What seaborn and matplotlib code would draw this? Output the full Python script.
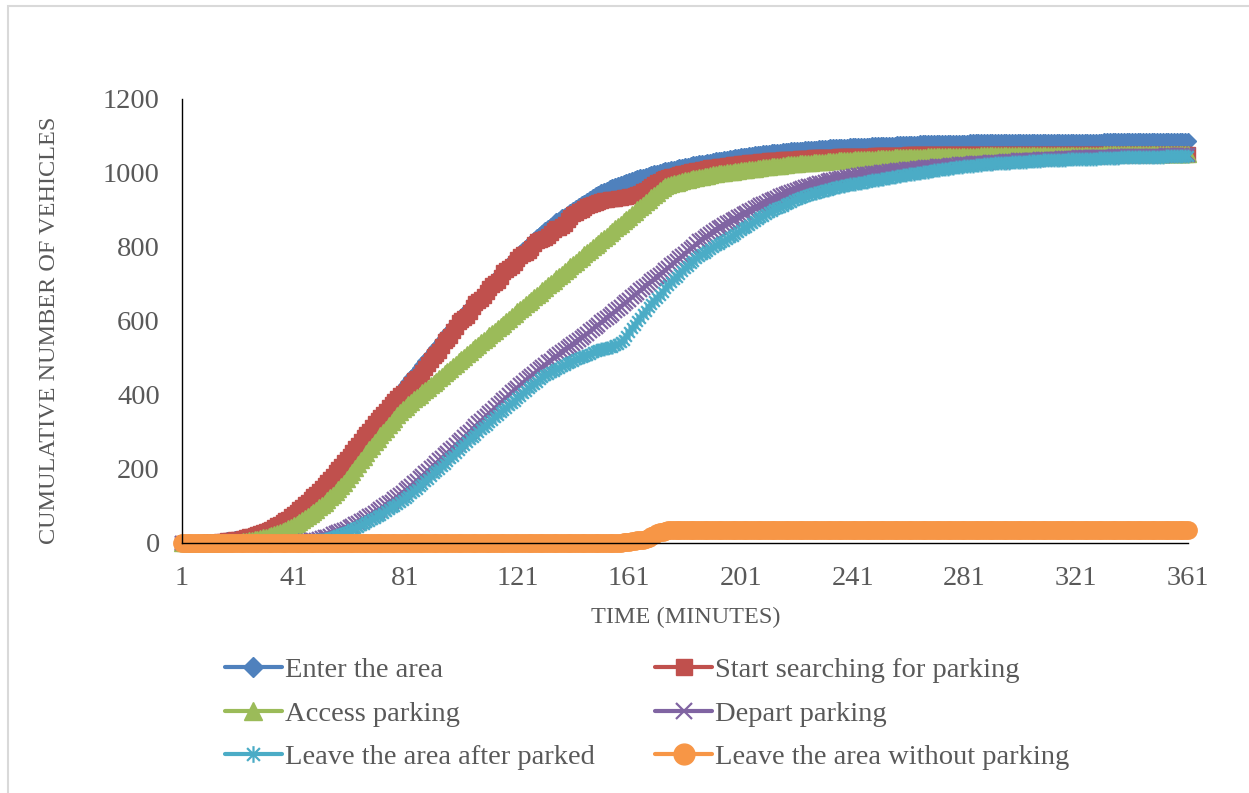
import matplotlib
matplotlib.use("Agg")
import matplotlib.pyplot as plt
import seaborn as sns
from matplotlib.path import Path
from matplotlib.patches import Rectangle

# Time axis: one observation per minute
minutes = list(range(1, 362))

# Cumulative vehicle counts per minute
enter = [
    0, 0, 0, 0, 1, 1, 1, 1, 2, 2,
    2, 3, 3, 4, 5, 6, 7, 8, 9, 10,
    11, 13, 14, 16, 18, 20, 22, 25, 27, 30,
    33, 36, 40, 44, 48, 52, 57, 62, 67, 72,
    80, 86, 92, 99, 106, 113, 120, 127, 134, 142,
    150, 158, 166, 175, 184, 193, 202, 211, 220, 229,
    238, 248, 258, 268, 279, 288, 297, 307, 316, 326,
    335, 344, 353, 362, 371, 381, 390, 399, 408, 417,
    426, 436, 445, 454, 463, 473, 482, 491, 500, 509,
    518, 527, 536, 545, 555, 564, 573, 582, 591, 601,
    610, 618, 627, 635, 643, 651, 660, 668, 676, 685,
    693, 701, 710, 718, 726, 735, 743, 751, 760, 768,
    776, 783, 791, 798, 805, 812, 819, 826, 832, 839,
    845, 851, 857, 863, 869, 874, 880, 885, 890, 895,
    900, 905, 910, 915, 920, 925, 930, 935, 940, 944,
    948, 952, 955, 959, 962, 965, 968, 971, 974, 976,
    978, 981, 983, 986, 988, 990, 993, 995, 997, 999,
    1001, 1003, 1005, 1007, 1008, 1010, 1012, 1014, 1015, 1017,
    1018, 1020, 1021, 1023, 1024, 1026, 1027, 1028, 1030, 1031,
    1032, 1034, 1035, 1036, 1037, 1039, 1040, 1041, 1042, 1043,
    1045, 1046, 1047, 1048, 1049, 1050, 1051, 1052, 1053, 1054,
    1055, 1056, 1056, 1057, 1058, 1059, 1059, 1060, 1061, 1061,
    1062, 1063, 1063, 1064, 1064, 1065, 1066, 1066, 1067, 1067,
    1068, 1068, 1069, 1069, 1070, 1070, 1070, 1071, 1071, 1072,
    1072, 1072, 1073, 1073, 1074, 1074, 1074, 1075, 1075, 1075,
    1076, 1076, 1076, 1077, 1077, 1077, 1078, 1078, 1078, 1078,
    1079, 1079, 1079, 1079, 1080, 1080, 1080, 1080, 1080, 1081,
    1081, 1081, 1081, 1081, 1081, 1082, 1082, 1082, 1082, 1082,
    1082, 1082, 1083, 1083, 1083, 1083, 1083, 1083, 1083, 1083,
    1084, 1084, 1084, 1084, 1084, 1084, 1084, 1084, 1084, 1084,
] + [1085] * 30 + [1086] * 31

start_search = [
    0, 0, 0, 0, 1, 1, 1, 1, 2, 2,
    2, 3, 3, 4, 5, 6, 7, 8, 9, 10,
    11, 12, 14, 16, 18, 20, 22, 24, 27, 29,
    32, 36, 39, 43, 48, 52, 56, 61, 66, 72,
    78, 85, 91, 98, 105, 112, 119, 126, 133, 140,
    148, 157, 165, 173, 182, 191, 200, 209, 218, 227,
    236, 246, 256, 266, 276, 286, 295, 304, 313, 323,
    332, 341, 350, 358, 367, 376, 384, 392, 400, 406,
    412, 420, 430, 440, 446, 452, 462, 474, 484, 494,
    505, 512, 520, 532, 545, 552, 560, 572, 585, 596,
    603, 608, 614, 625, 638, 648, 654, 660, 668, 678,
    690, 698, 703, 708, 720, 732, 738, 742, 748, 756,
    768, 775, 780, 783, 788, 798, 808, 815, 818, 822,
    825, 830, 838, 845, 850, 852, 856, 862, 872, 880,
    888, 892, 896, 900, 905, 910, 914, 916, 920, 922,
    924, 926, 928, 929, 930, 931, 932, 933, 934, 936,
    937, 939, 941, 944, 947, 951, 955, 960, 965, 970,
    975, 979, 983, 986, 989, 991, 993, 995, 997, 999,
    1001, 1003, 1005, 1006, 1008, 1009, 1011, 1012, 1013, 1015,
    1016, 1017, 1018, 1019, 1020, 1021, 1022, 1023, 1024, 1025,
    1026, 1027, 1028, 1029, 1030, 1030, 1031, 1032, 1033, 1033,
    1034, 1035, 1035, 1036, 1036, 1037, 1037, 1038, 1038, 1039,
    1039, 1040, 1040, 1040, 1041, 1041, 1042, 1042, 1042, 1043,
    1043, 1043, 1044, 1044, 1044, 1045, 1045, 1045, 1045, 1046,
    1046, 1046, 1046, 1047, 1047, 1047, 1047, 1047, 1048, 1048,
    1048, 1048, 1048, 1048, 1049, 1049, 1049, 1049, 1049, 1049,
] + [1050] * 40 + [1051] * 61

access = [
    0, 0, 0, 0, 0, 0, 0, 0, 0, 0,
    0, 0, 0, 0, 1, 1, 1, 2, 2, 3,
    3, 4, 5, 6, 7, 8, 10, 11, 13, 15,
    17, 19, 21, 24, 27, 30, 33, 36, 40, 44,
    48, 52, 57, 62, 67, 72, 78, 84, 90, 96,
    102, 109, 116, 123, 131, 139, 147, 155, 163, 172,
    183, 193, 203, 213, 223, 233, 243, 253, 263, 273,
    282, 291, 300, 309, 318, 327, 336, 345, 354, 362,
    368, 375, 381, 388, 394, 401, 407, 414, 420, 426,
    433, 439, 446, 452, 459, 465, 471, 478, 484, 491,
    497, 504, 510, 516, 523, 529, 536, 542, 548, 555,
    561, 568, 574, 581, 587, 593, 600, 606, 613, 619,
    626, 632, 638, 645, 651, 658, 664, 670, 677, 683,
    690, 696, 703, 709, 715, 722, 728, 735, 741, 748,
    754, 760, 767, 773, 780, 786, 793, 799, 805, 812,
    818, 825, 831, 837, 844, 850, 857, 863, 870, 876,
    882, 889, 895, 902, 908, 914, 921, 927, 934, 940,
    947, 953, 960, 964, 967, 970, 972, 974, 976, 978,
    980, 982, 984, 986, 987, 989, 990, 992, 993, 995,
    996, 997, 999, 1000, 1001, 1002, 1003, 1004, 1005, 1006,
    1007, 1008, 1009, 1010, 1011, 1012, 1013, 1014, 1015, 1016,
    1017, 1018, 1019, 1019, 1020, 1021, 1022, 1023, 1023, 1024,
    1025, 1026, 1026, 1027, 1028, 1028, 1029, 1030, 1030, 1031,
    1031, 1032, 1032, 1033, 1033, 1034, 1034, 1035, 1035, 1036,
    1036, 1037, 1037, 1037, 1038, 1038, 1039, 1039, 1039, 1040,
    1040, 1040, 1041, 1041, 1041, 1042, 1042, 1042, 1042, 1043,
    1043, 1043, 1043, 1044, 1044, 1044, 1044, 1045, 1045, 1045,
    1045, 1045, 1046, 1046, 1046, 1046, 1046, 1046, 1047, 1047,
    1047, 1047, 1047, 1047, 1047, 1047, 1048, 1048, 1048, 1048,
    1048, 1048, 1048, 1048, 1048, 1048, 1048, 1048, 1048, 1048,
] + [1049] * 30 + [1050] * 31

depart = [0] * 30 + [
    0, 0, 0, 0, 1, 1, 1, 1, 2, 2,
    2, 3, 3, 4, 5, 6, 7, 8, 9, 11,
    13, 15, 17, 20, 23, 26, 29, 32, 35, 39,
    43, 47, 51, 55, 59, 63, 67, 72, 77, 82,
    87, 92, 97, 102, 107, 112, 118, 124, 130, 136,
    142, 148, 155, 161, 168, 175, 181, 188, 195, 202,
    209, 216, 223, 230, 237, 244, 251, 258, 265, 272,
    279, 286, 294, 301, 308, 315, 323, 330, 337, 344,
    351, 358, 365, 372, 379, 386, 393, 400, 407, 414,
    420, 427, 433, 440, 446, 452, 458, 464, 470, 476,
    482, 488, 493, 499, 505, 510, 516, 521, 527, 532,
    538, 543, 549, 555, 560, 566, 572, 578, 584, 590,
    596, 602, 608, 614, 620, 626, 632, 638, 645, 651,
    657, 664, 670, 676, 683, 689, 695, 701, 707, 713,
    719, 725, 731, 738, 744, 751, 757, 763, 769, 775,
    782, 788, 795, 801, 808, 815, 820, 825, 830, 835,
    840, 845, 850, 855, 860, 864, 868, 873, 877, 881,
    885, 889, 893, 897, 901, 905, 909, 913, 917, 920,
    923, 927, 930, 933, 937, 940, 943, 946, 949, 952,
    955, 957, 960, 962, 964, 966, 968, 970, 972, 974,
    976, 978, 980, 981, 983, 984, 986, 987, 989, 990,
    991, 992, 994, 995, 996, 997, 998, 999, 1000, 1001,
    1002, 1003, 1004, 1005, 1006, 1006, 1007, 1008, 1009, 1010,
    1010, 1011, 1012, 1013, 1013, 1014, 1015, 1016, 1016, 1017,
    1018, 1018, 1019, 1020, 1020, 1021, 1022, 1022, 1023, 1023,
    1024, 1025, 1025, 1026, 1026, 1027, 1027, 1028, 1028, 1029,
    1029, 1030, 1030, 1031, 1031, 1032, 1032, 1033, 1033, 1034,
    1034, 1034, 1035, 1035, 1036, 1036, 1036, 1037, 1037, 1038,
    1038, 1038, 1039, 1039, 1039, 1040, 1040, 1040, 1041, 1041,
    1041, 1042, 1042, 1042, 1042, 1043, 1043, 1043, 1043, 1044,
    1044, 1044, 1044, 1044, 1045, 1045, 1045, 1045, 1045, 1046,
    1046, 1046, 1046, 1046, 1046, 1047, 1047, 1047, 1047, 1047,
    1047, 1047, 1048, 1048, 1048, 1048, 1048, 1048, 1048, 1048, 1048,
]

leave_parked = [0] * 35 + [
    0, 0, 0, 1, 1,
    1, 1, 2, 2, 3, 4, 5, 6, 7, 8,
    9, 11, 12, 14, 16, 18, 21, 24, 27, 30,
    33, 37, 40, 44, 48, 52, 56, 60, 64, 68,
    72, 77, 81, 86, 91, 96, 101, 106, 111, 117,
    122, 128, 134, 140, 146, 153, 160, 167, 174, 181,
    188, 194, 201, 207, 214, 221, 229, 236, 244, 252,
    260, 266, 273, 280, 287, 293, 300, 307, 313, 320,
    327, 333, 340, 346, 353, 359, 366, 372, 378, 385,
    391, 398, 405, 411, 418, 424, 430, 436, 442, 448,
    453, 458, 462, 466, 470, 474, 478, 482, 486, 489,
    493, 496, 499, 502, 505, 508, 512, 515, 518, 521,
    523, 525, 527, 529, 531, 534, 538, 543, 550, 559,
    569, 580, 590, 600, 609, 618, 628, 638, 647, 655,
    663, 670, 679, 688, 696, 705, 713, 720, 728, 735,
    742, 749, 756, 763, 769, 775, 780, 785, 790, 795,
    800, 805, 809, 813, 817, 821, 826, 830, 835, 840,
    845, 850, 855, 860, 865, 870, 875, 880, 885, 890,
    894, 898, 902, 905, 909, 912, 916, 919, 922, 926,
    929, 932, 935, 938, 940, 943, 945, 947, 949, 951,
    953, 955, 957, 959, 961, 962, 964, 966, 967, 969,
    970, 971, 973, 974, 976, 977, 978, 980, 981, 982,
    984, 985, 986, 987, 988, 990, 991, 992, 994, 995,
    996, 997, 998, 999, 1001, 1002, 1003, 1004, 1006, 1007,
    1008, 1009, 1010, 1011, 1012, 1013, 1014, 1015, 1016, 1017,
    1018, 1019, 1020, 1020, 1021, 1022, 1022, 1023, 1024, 1024,
    1025, 1026, 1026, 1027, 1027, 1028, 1028, 1029, 1029, 1030,
    1030, 1031, 1031, 1032, 1032, 1032, 1033, 1033, 1034, 1034,
    1034, 1035, 1035, 1035, 1036, 1036, 1036, 1037, 1037, 1037,
    1038, 1038, 1038, 1038, 1039, 1039, 1039, 1039, 1040, 1040,
    1040, 1040, 1041, 1041, 1041, 1041, 1042, 1042, 1042, 1042,
    1042, 1043, 1043, 1043, 1043, 1043, 1044, 1044, 1044, 1044,
    1044, 1044, 1045, 1045, 1045, 1045, 1045, 1046, 1046, 1046, 1046,
]

leave_unparked = [0] * 157 + [
    1, 2, 3, 4, 5, 6, 7, 8, 9, 11,
    14, 18, 22, 26, 29, 31, 33, 34, 35,
] + [35] * 185

labels = [
    "Enter the area",
    "Start searching for parking",
    "Access parking",
    "Depart parking",
    "Leave the area after parked",
    "Leave the area without parking",
]
values = [enter, start_search, access, depart, leave_parked, leave_unparked]
colors = ["#4F81BD", "#C0504D", "#9BBB59", "#8064A2", "#4BACC6", "#F79646"]

for name, v in zip(labels, values):
    if len(v) != len(minutes):
        raise ValueError(f"{name}: {len(v)} values")

# Asterisk marker: an X with a vertical stroke through it
asterisk = Path(
    [(-1, -1), (1, 1), (-1, 1), (1, -1), (0, -1.3), (0, 1.3)],
    [Path.MOVETO, Path.LINETO, Path.MOVETO, Path.LINETO, Path.MOVETO, Path.LINETO],
)
marker_styles = [
    dict(marker="D", markersize=8.5, markeredgewidth=1.0),
    dict(marker="s", markersize=9.5, markeredgewidth=1.0),
    dict(marker="^", markersize=11.0, markeredgewidth=1.0),
    dict(marker="x", markersize=9.5, markeredgewidth=1.6),
    dict(marker=asterisk, markersize=10.0, markeredgewidth=1.6),
    dict(marker="o", markersize=12.5, markeredgewidth=1.0),
]

sns.set_style("white")
plt.rcParams["font.family"] = ["Liberation Serif", "DejaVu Serif"]
text_color = "#595959"

W, H = 1249, 793
fig = plt.figure(figsize=(W / 100, H / 100), dpi=100)
ax = fig.add_axes([182 / W, 1 - 543 / H, 1006 / W, 444 / H])

for name, v, c, ms in zip(labels, values, colors, marker_styles):
    sns.lineplot(
        x=minutes, y=v, ax=ax, color=c, linewidth=3, label=name,
        markerfacecolor=c, markeredgecolor=c, clip_on=False,
        errorbar=None, sort=False, legend=False, **ms,
    )

ax.set_xlim(1, 361)
ax.set_ylim(0, 1200)
ax.set_xticks(list(range(1, 362, 40)))
ax.set_yticks(list(range(0, 1201, 200)))

for side in ("top", "right"):
    ax.spines[side].set_visible(False)
for side in ("left", "bottom"):
    ax.spines[side].set_color("black")
    ax.spines[side].set_linewidth(1.0)

ax.tick_params(axis="both", direction="inout", length=8, width=1.0,
               color="black", labelsize=20.5, labelcolor=text_color)
ax.tick_params(axis="y", pad=12)
ax.tick_params(axis="x", pad=12.5)

ax.set_xlabel("TIME (MINUTES)", fontsize=17.5, color=text_color)
ax.set_ylabel("CUMULATIVE NUMBER OF VEHICLES", fontsize=17.5, color=text_color)
ax.xaxis.set_label_coords((686 - 182) / 1006, (543 - 617) / 444)
ax.xaxis.label.set_va("center")
ax.yaxis.set_label_coords((50 - 182) / 1006, (543 - 330) / 444)
ax.yaxis.label.set_va("center")

handles, names = ax.get_legend_handles_labels()
order = [0, 2, 4, 1, 3, 5]
leg = fig.legend(
    [handles[i] for i in order], [names[i] for i in order],
    ncol=2, loc="upper left", bbox_to_anchor=(225 / W, 1 - 657 / H),
    frameon=False, fontsize=20.5, handlelength=2.0, handletextpad=0.1,
    columnspacing=2.12, labelspacing=0.62, borderpad=0, borderaxespad=0,
    markerscale=1.2,
)
for t in leg.get_texts():
    t.set_color(text_color)

# Light chart-area border
fig.add_artist(Rectangle((8 / W, -0.05), 1.2, 1.05 - 5.5 / H,
                         transform=fig.transFigure, fill=False,
                         edgecolor="#D9D9D9", linewidth=1.5))

fig.savefig("out.png", dpi=100)
